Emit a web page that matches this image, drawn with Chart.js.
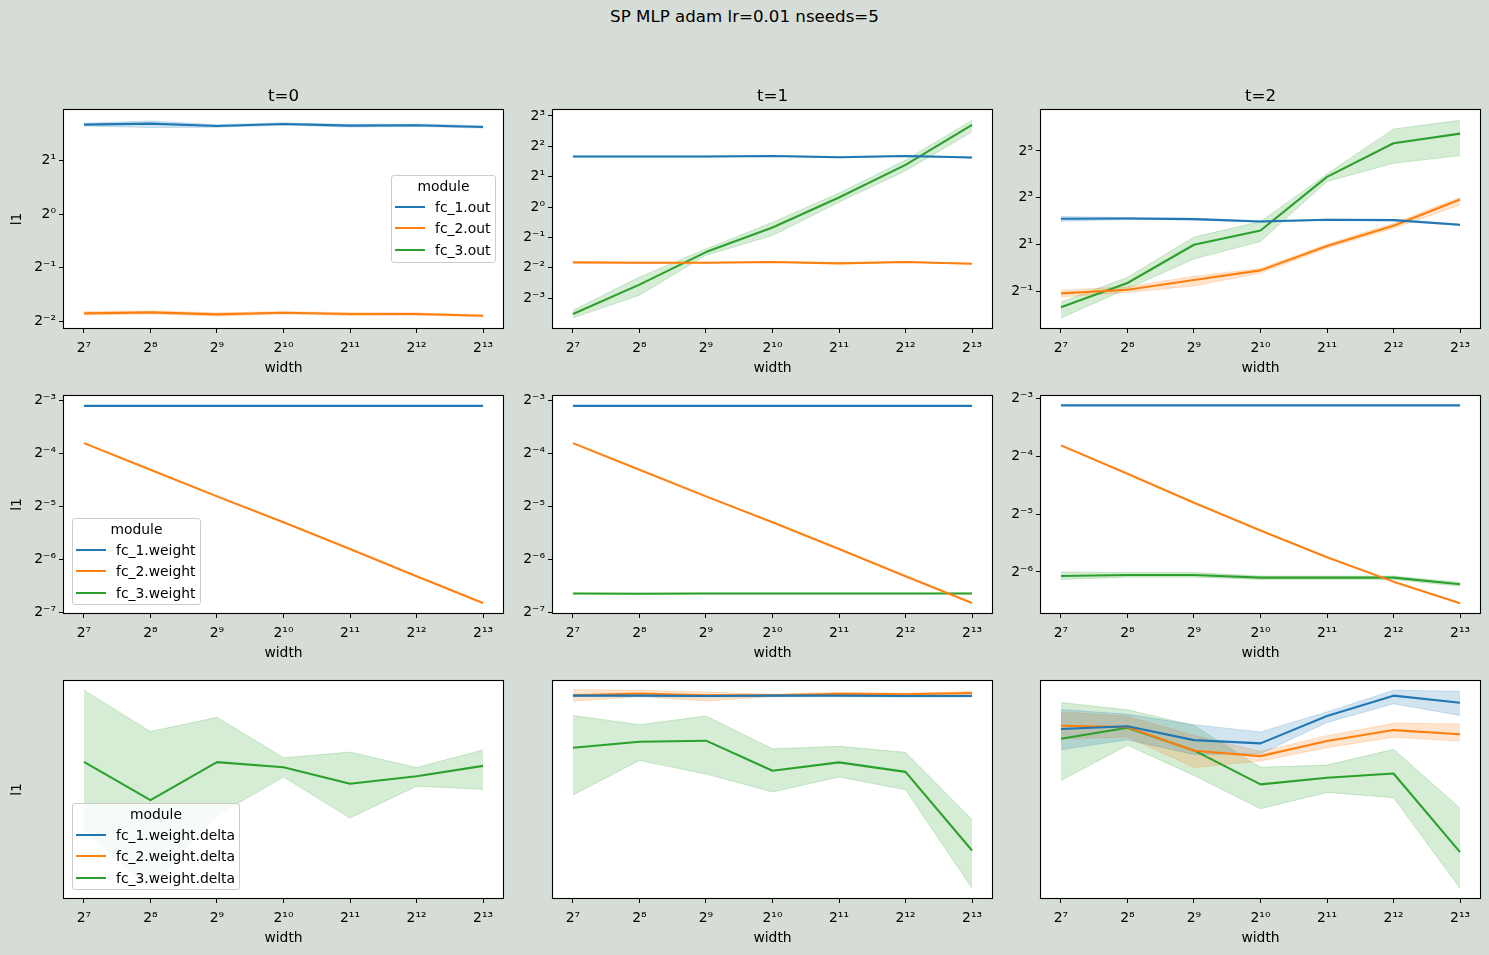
<!DOCTYPE html>
<html>
<head>
<meta charset="utf-8">
<script src="https://cdn.jsdelivr.net/npm/chart.js@4.4.1/dist/chart.umd.min.js"></script>
<style>
html, body { margin: 0; padding: 0; background: #d6dcd6; }
body { width: 1489px; height: 955px; position: relative; overflow: hidden; font-family: 'DejaVu Sans', sans-serif; }
.suptitle { position: absolute; left: 0; width: 1489px; top: 7px; text-align: center; font-size: 16.67px; line-height: 20px; color: #000; }
.legend { position: absolute; background: rgba(255,255,255,0.8); border: 1px solid #cccccc; border-radius: 3px; box-sizing: border-box; font-size: 13.89px; color: #000; }
.legend .lt { position: absolute; left: 0; width: 100%; text-align: center; line-height: 16px; }
.legend .lh { position: absolute; height: 2px; }
.legend .ll { position: absolute; line-height: 16px; white-space: nowrap; }
</style>
</head>
<body>
<div class="suptitle">SP MLP adam lr=0.01 nseeds=5</div>
<script>
// ---------------- data (values are log2 of the l1 value) ----------------
const widths = [128, 256, 512, 1024, 2048, 4096, 8192];
const xTickExps = [7, 8, 9, 10, 11, 12, 13];
const steps = ['t=0', 't=1', 't=2'];
const outModules = ['fc_1.out', 'fc_2.out', 'fc_3.out'];
const weightModules = ['fc_1.weight', 'fc_2.weight', 'fc_3.weight'];
const deltaModules = ['fc_1.weight.delta', 'fc_2.weight.delta', 'fc_3.weight.delta'];

// row 1: outputs
const out_t0_fc1    = [1.662, 1.680, 1.637, 1.674, 1.643, 1.649, 1.618];
const out_t0_fc1_lo = [1.635, 1.606, 1.612, 1.652, 1.615, 1.625, 1.597];
const out_t0_fc1_hi = [1.688, 1.730, 1.660, 1.695, 1.668, 1.672, 1.640];
const out_t0_fc2    = [-1.845, -1.827, -1.864, -1.833, -1.858, -1.858, -1.889];
const out_t0_fc2_lo = [-1.875, -1.855, -1.895, -1.855, -1.885, -1.880, -1.905];
const out_t0_fc2_hi = [-1.815, -1.800, -1.835, -1.812, -1.832, -1.836, -1.872];

const out_t1_fc1    = [1.662, 1.662, 1.662, 1.684, 1.640, 1.684, 1.629];
const out_t1_fc1_lo = [1.642, 1.642, 1.642, 1.664, 1.620, 1.664, 1.609];
const out_t1_fc1_hi = [1.682, 1.682, 1.682, 1.704, 1.660, 1.704, 1.649];
const out_t1_fc2    = [-1.825, -1.836, -1.836, -1.814, -1.857, -1.814, -1.868];
const out_t1_fc2_lo = [-1.840, -1.851, -1.851, -1.829, -1.872, -1.829, -1.883];
const out_t1_fc2_hi = [-1.810, -1.821, -1.821, -1.799, -1.842, -1.799, -1.853];
const out_t1_fc3    = [-3.524, -2.559, -1.485, -0.673, 0.314, 1.388, 2.704];
const out_t1_fc3_lo = [-3.650, -2.910, -1.590, -0.940, 0.160, 1.190, 2.480];
const out_t1_fc3_hi = [-3.400, -2.310, -1.380, -0.500, 0.460, 1.550, 2.860];

const out_t2_fc1    = [2.094, 2.108, 2.080, 1.980, 2.050, 2.037, 1.838];
const out_t2_fc1_lo = [1.990, 2.068, 2.045, 1.950, 2.020, 2.007, 1.800];
const out_t2_fc1_hi = [2.190, 2.148, 2.115, 2.010, 2.080, 2.067, 1.870];
const out_t2_fc2    = [-1.097, -0.940, -0.527, -0.114, 0.926, 1.795, 2.920];
const out_t2_fc2_lo = [-1.254, -1.060, -0.780, -0.230, 0.840, 1.690, 2.690];
const out_t2_fc2_hi = [-0.969, -0.820, -0.370, -0.030, 1.010, 1.900, 3.020];
const out_t2_fc3    = [-1.695, -0.655, 0.983, 1.595, 3.889, 5.328, 5.741];
const out_t2_fc3_lo = [-2.150, -0.897, 0.370, 1.125, 3.690, 4.470, 4.800];
const out_t2_fc3_hi = [-1.467, -0.413, 1.310, 1.980, 4.017, 5.940, 6.310];

// row 2: weights
const w_t0_fc1 = [-3.106, -3.106, -3.106, -3.106, -3.106, -3.106, -3.106];
const w_t0_fc2 = [-3.807, -4.308, -4.809, -5.297, -5.798, -6.310, -6.815];
const w_t1_fc1 = [-3.106, -3.106, -3.106, -3.106, -3.106, -3.106, -3.106];
const w_t1_fc2 = [-3.807, -4.308, -4.809, -5.297, -5.798, -6.310, -6.815];
const w_t1_fc3    = [-6.636, -6.640, -6.636, -6.636, -6.636, -6.636, -6.636];
const w_t1_fc3_lo = [-6.646, -6.650, -6.646, -6.646, -6.646, -6.646, -6.646];
const w_t1_fc3_hi = [-6.626, -6.630, -6.626, -6.626, -6.626, -6.626, -6.626];
const w_t2_fc1 = [-3.116, -3.116, -3.116, -3.116, -3.116, -3.116, -3.116];
const w_t2_fc2 = [-3.809, -4.300, -4.803, -5.283, -5.746, -6.168, -6.543];
const w_t2_fc3    = [-6.069, -6.052, -6.052, -6.098, -6.098, -6.098, -6.214];
const w_t2_fc3_lo = [-6.130, -6.090, -6.090, -6.130, -6.130, -6.130, -6.250];
const w_t2_fc3_hi = [-6.000, -6.010, -6.010, -6.070, -6.070, -6.070, -6.180];

// row 3: weight deltas
const d_t0_fc3    = [-6.398, -6.539, -6.399, -6.418, -6.479, -6.451, -6.413];
const d_t0_fc3_lo = [-6.651, -6.863, -6.596, -6.454, -6.605, -6.488, -6.499];
const d_t0_fc3_hi = [-6.134, -6.286, -6.234, -6.383, -6.362, -6.419, -6.354];

const d_t1_fc1    = [-6.154, -6.154, -6.155, -6.154, -6.154, -6.155, -6.155];
const d_t1_fc1_lo = [-6.158, -6.158, -6.159, -6.158, -6.158, -6.159, -6.159];
const d_t1_fc1_hi = [-6.150, -6.150, -6.151, -6.150, -6.150, -6.151, -6.151];
const d_t1_fc2    = [-6.153, -6.146, -6.153, -6.153, -6.147, -6.149, -6.144];
const d_t1_fc2_lo = [-6.175, -6.157, -6.174, -6.157, -6.153, -6.154, -6.151];
const d_t1_fc2_hi = [-6.132, -6.134, -6.141, -6.149, -6.142, -6.144, -6.139];
const d_t1_fc3    = [-6.346, -6.324, -6.320, -6.431, -6.400, -6.435, -6.725];
const d_t1_fc3_lo = [-6.520, -6.393, -6.443, -6.509, -6.454, -6.501, -6.864];
const d_t1_fc3_hi = [-6.227, -6.261, -6.229, -6.350, -6.341, -6.363, -6.611];

const d_t2_fc1    = [-6.277, -6.267, -6.318, -6.330, -6.229, -6.154, -6.180];
const d_t2_fc1_lo = [-6.353, -6.317, -6.371, -6.368, -6.253, -6.184, -6.227];
const d_t2_fc1_hi = [-6.205, -6.223, -6.261, -6.288, -6.214, -6.134, -6.138];
const d_t2_fc2    = [-6.265, -6.270, -6.357, -6.377, -6.321, -6.281, -6.296];
const d_t2_fc2_lo = [-6.313, -6.307, -6.419, -6.395, -6.346, -6.307, -6.321];
const d_t2_fc2_hi = [-6.214, -6.230, -6.301, -6.360, -6.302, -6.256, -6.258];
const d_t2_fc3    = [-6.313, -6.272, -6.356, -6.481, -6.457, -6.441, -6.731];
const d_t2_fc3_lo = [-6.467, -6.337, -6.448, -6.571, -6.511, -6.530, -6.864];
const d_t2_fc3_hi = [-6.179, -6.206, -6.264, -6.418, -6.410, -6.352, -6.568];

// y tick exponents
const yTicks_out_t0 = [-2, -1, 0, 1];
const yTicks_out_t1 = [-3, -2, -1, 0, 1, 2, 3];
const yTicks_out_t2 = [-1, 1, 3, 5];
const yTicks_w_t0 = [-7, -6, -5, -4, -3];
const yTicks_w_t1 = [-7, -6, -5, -4, -3];
const yTicks_w_t2 = [-6, -5, -4, -3];
const yTicks_delta = [];

// ---------------- styling / layout ----------------
const COLORS = ['#1f77b4', '#ff7f0e', '#2ca02c'];
const FAMILY = "'DejaVu Sans', sans-serif";
const FS = 13.89;
Chart.defaults.font.family = FAMILY;

function rgba(hex, a) {
  const n = parseInt(hex.slice(1), 16);
  return `rgba(${(n >> 16) & 255},${(n >> 8) & 255},${n & 255},${a})`;
}
const SUP = {'0':'⁰','1':'¹','2':'²','3':'³','4':'⁴','5':'⁵','6':'⁶','7':'⁷','8':'⁸','9':'⁹','-':'⁻'};
function pow2Label(v) {
  const e = Math.round(Math.log2(v));
  return '2' + String(e).split('').map(c => SUP[c]).join('');
}

const framePlugin = {
  id: 'frame',
  beforeDraw(chart) {
    const {ctx, chartArea: a} = chart;
    ctx.save();
    ctx.fillStyle = '#ffffff';
    ctx.fillRect(a.left, a.top, a.right - a.left, a.bottom - a.top);
    ctx.restore();
  },
  afterDraw(chart) {
    const {ctx, chartArea: a} = chart;
    ctx.save();
    ctx.strokeStyle = '#000000';
    ctx.lineWidth = 1.1;
    ctx.strokeRect(Math.round(a.left) - 0.5, Math.round(a.top) - 0.5, Math.round(a.right - a.left) + 1, Math.round(a.bottom - a.top) + 1);
    ctx.restore();
  }
};

const colX = [64, 553, 1041];
const rowY = [110, 396, 681];
const rowH = [218, 217, 217];
const PW = 439;

function makePanel(p) {
  const ML = 64, MT = 30, MR = 6, MB = 60;
  const x0 = colX[p.col], y0 = rowY[p.row], h = rowH[p.row];
  const W = ML + PW + MR, H = MT + h + MB;
  const c = document.createElement('canvas');
  c.width = W; c.height = H;
  c.style.cssText = `position:absolute;left:${x0 - ML}px;top:${y0 - MT}px;width:${W}px;height:${H}px;`;
  document.body.appendChild(c);

  const pts = arr => widths.map((w, i) => ({x: w, y: Math.pow(2, arr[i])}));
  const datasets = [];
  p.series.forEach(s => {
    if (s.lo) {
      datasets.push({data: pts(s.lo), borderColor: rgba(s.color, 0.2), borderWidth: 1, pointRadius: 0, fill: false, order: 2, tension: 0});
      datasets.push({data: pts(s.hi), borderColor: rgba(s.color, 0.2), borderWidth: 1, backgroundColor: rgba(s.color, 0.2), pointRadius: 0, fill: '-1', order: 2, tension: 0});
    }
    datasets.push({label: s.label, data: pts(s.mean), borderColor: s.color, borderWidth: 2.08, pointRadius: 0, fill: false, order: 1, tension: 0, borderJoinStyle: 'round'});
  });

  const hasYT = p.yTicks.length > 0;
  new Chart(c, {
    type: 'line',
    data: {datasets},
    plugins: [framePlugin],
    options: {
      responsive: false,
      animation: false,
      devicePixelRatio: 1,
      events: [],
      layout: {autoPadding: false, padding: {top: p.title ? 7 : MT, left: 0, right: MR, bottom: 0}},
      plugins: {
        legend: {display: false},
        tooltip: {enabled: false},
        title: p.title ? {display: true, text: p.title, fullSize: false, color: '#000', font: {family: FAMILY, size: 16.67, weight: 'normal'}, padding: {top: 0, bottom: 3}} : {display: false}
      },
      scales: {
        x: {
          type: 'logarithmic',
          min: Math.pow(2, 6.7), max: Math.pow(2, 13.3),
          afterBuildTicks: sc => { sc.ticks = xTickExps.map(e => ({value: Math.pow(2, e)})); },
          afterFit: sc => { sc.height = MB; },
          ticks: {callback: v => pow2Label(v), autoSkip: false, maxRotation: 0, minRotation: 0, color: '#000', font: {family: FAMILY, size: FS}, padding: 7.5},
          grid: {display: true, drawOnChartArea: false, drawTicks: true, tickLength: 5, color: '#000', lineWidth: 1},
          border: {display: false},
          title: {display: true, text: 'width', color: '#000', font: {family: FAMILY, size: FS}, padding: {top: 0, bottom: 11.7}}
        },
        y: {
          type: 'logarithmic',
          min: Math.pow(2, p.yLim[0]), max: Math.pow(2, p.yLim[1]),
          afterBuildTicks: sc => { sc.ticks = p.yTicks.map(e => ({value: Math.pow(2, e)})); },
          afterFit: sc => { sc.width = ML; },
          ticks: {display: hasYT, callback: v => pow2Label(v), autoSkip: false, color: '#000', font: {family: FAMILY, size: FS}, padding: 3},
          grid: {display: hasYT, drawOnChartArea: false, drawTicks: true, tickLength: 5, color: '#000', lineWidth: 1},
          border: {display: false},
          title: {display: !!p.yLabel, text: 'l1', color: '#000', font: {family: FAMILY, size: FS}, padding: {top: 9, bottom: 0}}
        }
      }
    }
  });
}

function makeLegend(box, labels) {
  const d = document.createElement('div');
  d.className = 'legend';
  d.style.left = box.left + 'px'; d.style.top = box.top + 'px';
  d.style.width = box.w + 'px'; d.style.height = box.h + 'px';
  const t = document.createElement('div');
  t.className = 'lt'; t.style.top = (10.5 - 1 - 8) + 'px'; t.textContent = 'module';
  d.appendChild(t);
  labels.forEach((lab, i) => {
    const cy = 32 - 1 + 21.3 * i;
    const hnd = document.createElement('div');
    hnd.className = 'lh'; hnd.style.left = '3px'; hnd.style.width = '30px'; hnd.style.top = (cy - 1) + 'px';
    hnd.style.background = COLORS[i];
    d.appendChild(hnd);
    const l = document.createElement('div');
    l.className = 'll'; l.style.left = '43px'; l.style.top = (cy - 8) + 'px'; l.textContent = lab;
    d.appendChild(l);
  });
  document.body.appendChild(d);
}

const S = (label, i, mean, lo, hi) => ({label, color: COLORS[i], mean, lo, hi});

const panels = [
  {row: 0, col: 0, title: steps[0], yLabel: true, yTicks: yTicks_out_t0, yLim: [-2.117, 1.933], series: [
    S(outModules[0], 0, out_t0_fc1, out_t0_fc1_lo, out_t0_fc1_hi),
    S(outModules[1], 1, out_t0_fc2, out_t0_fc2_lo, out_t0_fc2_hi)]},
  {row: 0, col: 1, title: steps[1], yTicks: yTicks_out_t1, yLim: [-3.987, 3.197], series: [
    S(outModules[0], 0, out_t1_fc1, out_t1_fc1_lo, out_t1_fc1_hi),
    S(outModules[1], 1, out_t1_fc2, out_t1_fc2_lo, out_t1_fc2_hi),
    S(outModules[2], 2, out_t1_fc3, out_t1_fc3_lo, out_t1_fc3_hi)]},
  {row: 0, col: 2, title: steps[2], yTicks: yTicks_out_t2, yLim: [-2.581, 6.752], series: [
    S(outModules[0], 0, out_t2_fc1, out_t2_fc1_lo, out_t2_fc1_hi),
    S(outModules[1], 1, out_t2_fc2, out_t2_fc2_lo, out_t2_fc2_hi),
    S(outModules[2], 2, out_t2_fc3, out_t2_fc3_lo, out_t2_fc3_hi)]},
  {row: 1, col: 0, yLabel: true, yTicks: yTicks_w_t0, yLim: [-7.003, -2.92], series: [
    S(weightModules[0], 0, w_t0_fc1),
    S(weightModules[1], 1, w_t0_fc2)]},
  {row: 1, col: 1, yTicks: yTicks_w_t1, yLim: [-7.003, -2.92], series: [
    S(weightModules[0], 0, w_t1_fc1),
    S(weightModules[1], 1, w_t1_fc2),
    S(weightModules[2], 2, w_t1_fc3, w_t1_fc3_lo, w_t1_fc3_hi)]},
  {row: 1, col: 2, yTicks: yTicks_w_t2, yLim: [-6.711, -2.954], series: [
    S(weightModules[0], 0, w_t2_fc1),
    S(weightModules[1], 1, w_t2_fc2),
    S(weightModules[2], 2, w_t2_fc3, w_t2_fc3_lo, w_t2_fc3_hi)]},
  {row: 2, col: 0, yLabel: true, yTicks: yTicks_delta, yLim: [-6.9, -6.1], series: [
    S(deltaModules[2], 2, d_t0_fc3, d_t0_fc3_lo, d_t0_fc3_hi)]},
  {row: 2, col: 1, yTicks: yTicks_delta, yLim: [-6.9, -6.1], series: [
    S(deltaModules[0], 0, d_t1_fc1, d_t1_fc1_lo, d_t1_fc1_hi),
    S(deltaModules[1], 1, d_t1_fc2, d_t1_fc2_lo, d_t1_fc2_hi),
    S(deltaModules[2], 2, d_t1_fc3, d_t1_fc3_lo, d_t1_fc3_hi)]},
  {row: 2, col: 2, yTicks: yTicks_delta, yLim: [-6.9, -6.1], series: [
    S(deltaModules[0], 0, d_t2_fc1, d_t2_fc1_lo, d_t2_fc1_hi),
    S(deltaModules[1], 1, d_t2_fc2, d_t2_fc2_lo, d_t2_fc2_hi),
    S(deltaModules[2], 2, d_t2_fc3, d_t2_fc3_lo, d_t2_fc3_hi)]}
];

panels.forEach(makePanel);

makeLegend({left: 391, top: 175, w: 105, h: 88}, outModules);
makeLegend({left: 72, top: 518, w: 129, h: 87}, weightModules);
makeLegend({left: 72, top: 803, w: 168, h: 87}, deltaModules);
</script>
</body>
</html>
